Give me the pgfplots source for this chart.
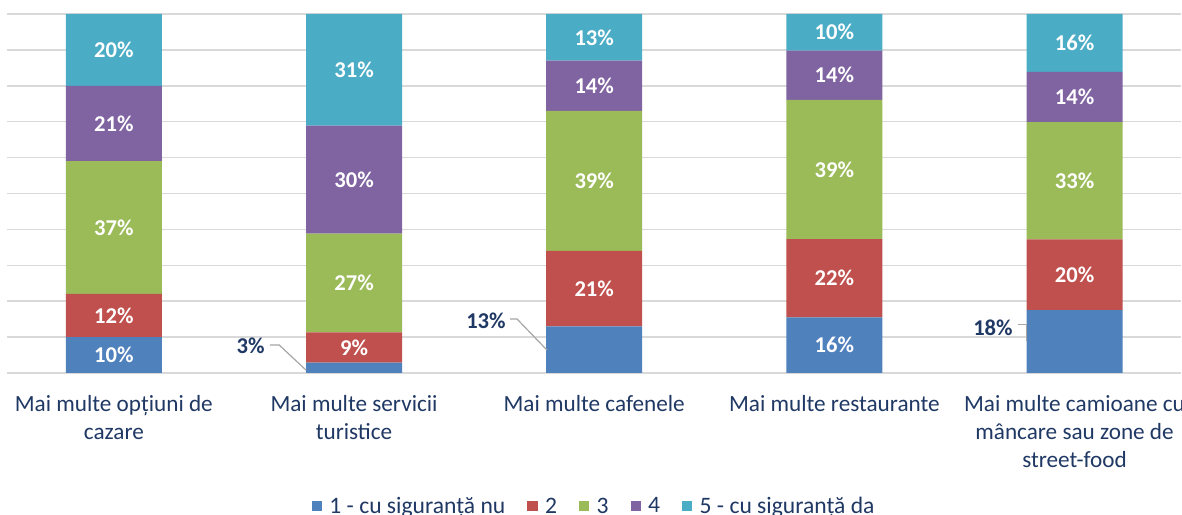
\documentclass[border=0pt]{standalone}
\usepackage{fontspec}
\setmainfont{Carlito}
\usepackage{pgfplots}
\pgfplotsset{compat=1.18}
\definecolor{cA}{HTML}{4F81BD}
\definecolor{cB}{HTML}{C0504D}
\definecolor{cC}{HTML}{9BBB59}
\definecolor{cD}{HTML}{8064A2}
\definecolor{cE}{HTML}{4BACC6}
\definecolor{navy}{HTML}{1F3864}
\definecolor{gridc}{HTML}{D9D9D9}
\pgfplotsset{
  common/.style={
    scale only axis,
    width=587.3pt, height=179.5pt,
    xmin=-0.445, xmax=4.445,
    ymin=0, ymax=100,
  }
}
\begin{document}
\begin{tikzpicture}
\useasboundingbox (-3.5pt,-71pt) rectangle (587.6pt,186.5pt);
\clip (-3.5pt,-71pt) rectangle (587.6pt,186.5pt);
\begin{axis}[
  common,
  ybar stacked,
  bar width=0.4,
  ytick={0,10,...,100},
  yticklabels={},
  ymajorgrids,
  grid style={gridc, line width=0.75pt},
  axis line style={draw=none},
  tick style={draw=none},
  xtick={0,1,2,3,4},
  xticklabels={{Mai multe opțiuni de\\cazare},{Mai multe servicii\\turistice},{Mai multe cafenele},{Mai multe restaurante},{Mai multe camioane cu\\mâncare sau zone de\\street-food}},
  xticklabel style={align=center, font=\fontsize{11.6}{14}\selectfont, text=navy, yshift=-7.8pt},
  legend image code/.code={\fill[#1] (0pt,-2.2pt) rectangle (5.2pt,3.2pt); \path (6.8pt,0pt);},
  legend columns=-1,
  legend style={draw=none, at={(0.5,0)}, anchor=center, yshift=-67pt, xshift=0.5pt,
    font=\fontsize{11.8}{14}\selectfont, text=navy,
    /tikz/every even column/.append style={column sep=9pt}},
  clip=false,
]
\addplot[fill=cA, draw=none] coordinates {(0,10) (1,2.9) (2,13) (3,15.5) (4,17.5)};
\addplot[fill=cB, draw=none] coordinates {(0,12) (1,8.4) (2,21) (3,21.8) (4,19.7)};
\addplot[fill=cC, draw=none] coordinates {(0,37) (1,27.5) (2,39) (3,38.8) (4,32.7)};
\addplot[fill=cD, draw=none] coordinates {(0,21) (1,30.1) (2,14) (3,13.7) (4,14.0)};
\addplot[fill=cE, draw=none] coordinates {(0,20) (1,31.1) (2,13) (3,10.2) (4,16.1)};
\legend{1 - cu siguranță nu,2,3,4,5 - cu siguranță da}
\end{axis}
\begin{axis}[
  common,
  hide axis,
  clip=false,
]
\addplot[draw=none, mark=none, point meta=explicit symbolic,
  nodes near coords,
  every node near coord/.append style={anchor=center, text=white, font=\bfseries\fontsize{11.3}{13}\selectfont}]
  coordinates {
  (0,5) [10\%] (0,16) [12\%] (0,40.5) [37\%] (0,69.5) [21\%] (0,90) [20\%]
  (1,7.1) [9\%] (1,25.05) [27\%] (1,53.85) [30\%] (1,84.45) [31\%]
  (2,23.5) [21\%] (2,53.5) [39\%] (2,80) [14\%] (2,93.5) [13\%]
  (3,7.75) [16\%] (3,26.4) [22\%] (3,56.7) [39\%] (3,82.95) [14\%] (3,94.9) [10\%]
  (4,27.35) [20\%] (4,53.55) [33\%] (4,76.9) [14\%] (4,91.95) [16\%]
  };
\addplot[draw=none, mark=none, point meta=explicit symbolic,
  nodes near coords,
  every node near coord/.append style={anchor=east, inner sep=0pt, text=navy, font=\bfseries\fontsize{11.3}{13}\selectfont}]
  coordinates {(0.6295,7.5) [3\%] (1.633,14.5) [13\%] (3.744,12.7) [18\%]};
\addplot[color=black!35, line width=0.6pt, mark=none] coordinates {(0.65,7.8) (0.688,7.8) (0.800,0.8)};
\addplot[color=black!35, line width=0.6pt, mark=none] coordinates {(1.650,15.0) (1.679,15.0) (1.803,6.4)};
\addplot[color=black!35, line width=0.6pt, mark=none] coordinates {(3.764,13.4) (3.799,13.4) (3.799,8.9)};
\end{axis}
\end{tikzpicture}
\end{document}
